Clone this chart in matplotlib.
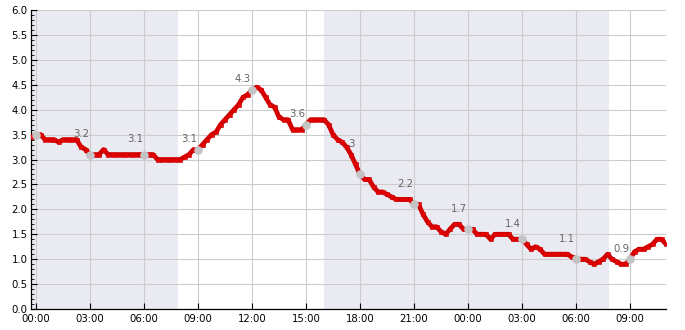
import numpy as np
import matplotlib
matplotlib.use("Agg")
import matplotlib.pyplot as plt
from matplotlib.ticker import MultipleLocator, FuncFormatter

# water level readings, every 15 min starting at -00:15 (hours from midnight day 1)
start_h = -0.25
step_h = 0.25
level = [3.45,
         3.5, 3.5, 3.4, 3.4, 3.4, 3.35, 3.4, 3.4, 3.4, 3.4, 3.25, 3.2,   # 00:00 - 02:45
         3.1, 3.1, 3.1, 3.2, 3.1, 3.1, 3.1, 3.1, 3.1, 3.1, 3.1, 3.1,     # 03:00 - 05:45
         3.1, 3.1, 3.1, 3.0, 3.0, 3.0, 3.0, 3.0, 3.0, 3.05, 3.1, 3.2,    # 06:00 - 08:45
         3.2, 3.3, 3.4, 3.5, 3.55, 3.7, 3.8, 3.9, 4.0, 4.1, 4.25, 4.3,   # 09:00 - 11:45
         4.4, 4.45, 4.4, 4.25, 4.1, 4.05, 3.85, 3.8, 3.8, 3.6, 3.6, 3.6, # 12:00 - 14:45
         3.7, 3.8, 3.8, 3.8, 3.8, 3.7, 3.5, 3.4, 3.35, 3.25, 3.1, 2.9,   # 15:00 - 17:45
         2.7, 2.6, 2.6, 2.45, 2.35, 2.35, 2.3, 2.25, 2.2, 2.2, 2.2, 2.2, # 18:00 - 20:45
         2.1, 2.1, 1.9, 1.75, 1.65, 1.65, 1.55, 1.5, 1.6, 1.7, 1.7, 1.6, # 21:00 - 23:45
         1.6, 1.6, 1.5, 1.5, 1.5, 1.4, 1.5, 1.5, 1.5, 1.5, 1.4, 1.4,     # 00:00 - 02:45
         1.4, 1.3, 1.2, 1.25, 1.2, 1.1, 1.1, 1.1, 1.1, 1.1, 1.1, 1.05,   # 03:00 - 05:45
         1.0, 1.0, 1.0, 0.95, 0.9, 0.95, 1.0, 1.1, 1.0, 0.95, 0.9, 0.9,  # 06:00 - 08:45
         1.0, 1.15, 1.2, 1.2, 1.25, 1.3, 1.4, 1.4, 1.3]                  # 09:00 - 11:00
hours = start_h + step_h * np.arange(len(level))

# 3-hourly markers and their labels (no label on the first one)
mark_hours = [0, 3, 6, 9, 12, 15, 18, 21, 24, 27, 30, 33]
mark_labels = ["", "3.2", "3.1", "3.1", "4.3", "3.6", "3", "2.2", "1.7", "1.4", "1.1", "0.9"]

# night periods (shaded)
nights = [(-0.28, 7.87), (16.0, 31.83)]

fig = plt.figure(figsize=(6.85, 3.3), dpi=100, facecolor="white")
ax = fig.add_axes([31 / 685, 1 - 309 / 330, (666 - 31) / 685, (309 - 10) / 330])

for a, b in nights:
    ax.axvspan(a, b, color="#eaeaf2", zorder=0, lw=0)

ax.plot(hours, level, color="#d40000", lw=3.4, marker="s", ms=2.2,
        mfc="#e80000", mec="#c00000", mew=0.4, zorder=3, solid_capstyle="butt")

mark_vals = np.interp(mark_hours, hours, level)
ax.scatter(mark_hours, mark_vals, s=38, color="#c4c4c4", zorder=4, lw=0)
for h, lab in zip(mark_hours, mark_labels):
    if not lab:
        continue
    ax.annotate(lab, xy=(h - 0.5, float(lab)), xytext=(0, 11), textcoords="offset points",
                ha="center", va="center", fontsize=7.3, color="#666666", zorder=5)

ax.set_xlim(-0.28, 35.0)
ax.set_ylim(0, 6)
ax.xaxis.set_major_locator(MultipleLocator(3))
ax.xaxis.set_major_formatter(FuncFormatter(lambda v, p: "%02d:00" % (int(round(v)) % 24)))
ax.yaxis.set_major_locator(MultipleLocator(0.5))
ax.yaxis.set_minor_locator(MultipleLocator(0.1))
ax.yaxis.set_major_formatter(FuncFormatter(lambda v, p: "%.1f" % v))

ax.grid(True, which="major", color="#cccccc", lw=0.8, zorder=1)
ax.set_axisbelow(True)
ax.tick_params(which="major", direction="in", length=4, width=0.8, labelsize=7.3, colors="black")
ax.tick_params(which="minor", direction="in", length=2.5, width=0.6)
ax.tick_params(axis="y", pad=2.5)
ax.tick_params(axis="x", pad=3.5)
ax.spines["top"].set_visible(False)
ax.spines["right"].set_visible(False)
for s in ("left", "bottom"):
    ax.spines[s].set_color("black")
    ax.spines[s].set_linewidth(0.9)

fig.savefig("out.png", dpi=100, facecolor="white")
